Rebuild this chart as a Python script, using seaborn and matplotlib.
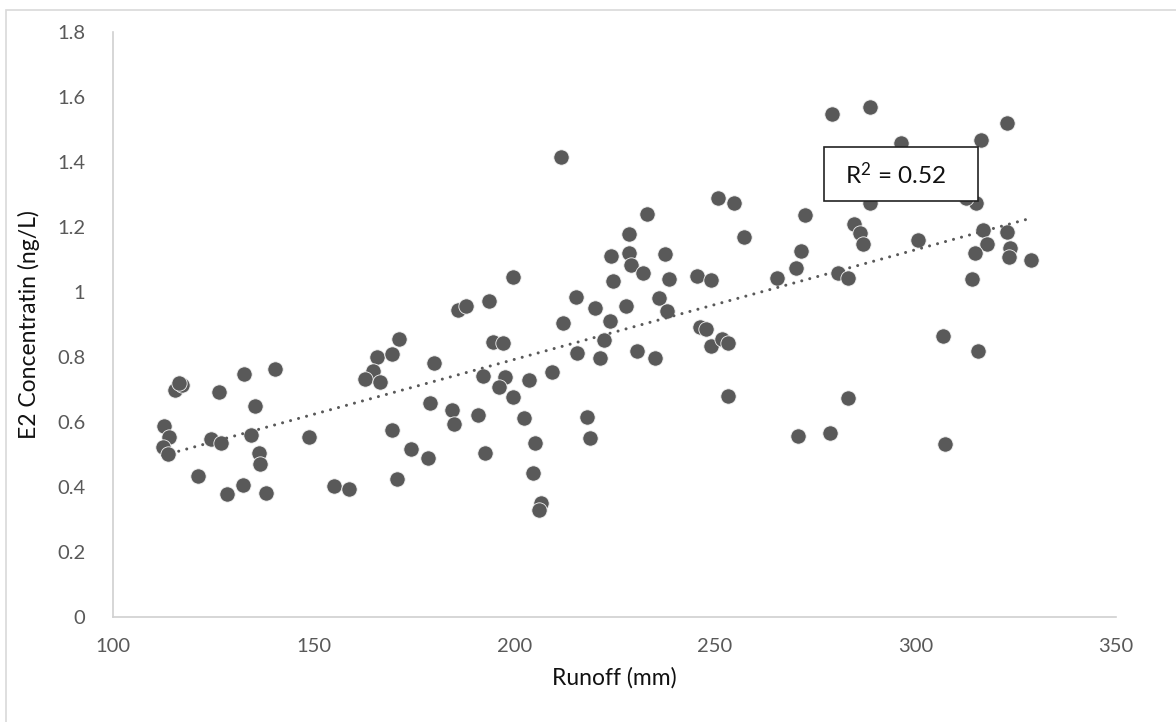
import numpy as np
import pandas as pd
import matplotlib
matplotlib.use("Agg")
import matplotlib.pyplot as plt
from matplotlib.patches import Rectangle
from matplotlib.ticker import FuncFormatter
import seaborn as sns

# Runoff (mm) and E2 concentration (ng/L) observations
runoff = [
    115.5, 117.3, 116.5, 132.7, 140.5, 126.4, 135.5, 112.8, 114.0, 112.4,
    113.8, 124.4, 126.8, 134.5, 148.8, 136.3, 136.6, 121.3, 128.5, 132.4,
    138.1, 155.1, 158.8, 185.9, 188.1, 193.6, 199.8, 215.3, 220.1, 212.2,
    194.6, 197.1, 171.4, 165.8, 169.5, 164.8, 162.9, 166.6, 180.0, 215.6,
    221.4, 192.1, 197.6, 196.1, 203.7, 209.4, 199.8, 179.0, 184.5, 185.1,
    191.0, 202.5, 218.1, 218.8, 169.5, 174.4, 178.4, 192.8, 205.2, 204.8,
    206.6, 206.2, 170.8, 211.7, 233.2, 228.7, 224.2, 228.5, 229.0, 232.2,
    237.5, 238.6, 224.6, 227.9, 236.1, 238.1, 223.9, 222.3, 230.6, 235.2,
    245.6, 249.1, 250.7, 254.9, 257.4, 246.4, 247.9, 249.1, 251.7, 253.3,
    253.2, 272.5, 271.4, 270.2, 265.4, 280.6, 270.7, 278.8, 279.3, 288.8,
    296.3, 316.3, 322.8, 288.6, 315.1, 312.7, 284.7, 286.3, 287.0, 300.7,
    316.8, 322.8, 317.9, 314.8, 323.5, 323.3, 328.9, 283.3, 314.0, 306.8,
    315.7, 307.5, 283.3,
]
e2_conc = [
    0.700, 0.714, 0.719, 0.748, 0.762, 0.691, 0.649, 0.588, 0.553, 0.522,
    0.501, 0.548, 0.534, 0.560, 0.555, 0.504, 0.470, 0.435, 0.378, 0.407,
    0.383, 0.403, 0.393, 0.945, 0.957, 0.971, 1.046, 0.986, 0.950, 0.906,
    0.845, 0.844, 0.854, 0.801, 0.809, 0.758, 0.733, 0.723, 0.783, 0.812,
    0.796, 0.742, 0.738, 0.709, 0.728, 0.753, 0.677, 0.659, 0.637, 0.594,
    0.621, 0.612, 0.616, 0.551, 0.574, 0.517, 0.488, 0.505, 0.535, 0.444,
    0.350, 0.329, 0.424, 1.414, 1.240, 1.179, 1.112, 1.119, 1.083, 1.060,
    1.116, 1.041, 1.035, 0.958, 0.982, 0.942, 0.911, 0.851, 0.818, 0.798,
    1.050, 1.037, 1.288, 1.275, 1.170, 0.893, 0.885, 0.835, 0.855, 0.843,
    0.681, 1.238, 1.127, 1.074, 1.044, 1.057, 0.558, 0.565, 1.548, 1.570,
    1.457, 1.468, 1.519, 1.273, 1.273, 1.289, 1.208, 1.182, 1.147, 1.160,
    1.191, 1.185, 1.147, 1.119, 1.134, 1.107, 1.098, 1.044, 1.041, 0.865,
    0.818, 0.532, 0.674,
]
x_ticks = [100, 150, 200, 250, 300, 350]
y_ticks = [0, 0.2, 0.4, 0.6, 0.8, 1.0, 1.2, 1.4, 1.6, 1.8]
r2_label = r"R$^{2}$ = 0.52"

df = pd.DataFrame({"Runoff (mm)": runoff, "E2 Concentratin (ng/L)": e2_conc})

sns.set_theme(style="white")
plt.rcParams["font.family"] = ["Lato", "DejaVu Sans"]
plt.rcParams["mathtext.fontset"] = "custom"
plt.rcParams["mathtext.rm"] = "Lato"
plt.rcParams["mathtext.it"] = "Lato"
plt.rcParams["mathtext.default"] = "regular"

W, H = 1176, 722
fig = plt.figure(figsize=(W / 100, H / 100), dpi=100)
ax = fig.add_axes([113 / W, (H - 617) / H, (1116 - 113) / W, (617 - 32) / H])

mark = "#595959"
sns.scatterplot(data=df, x="Runoff (mm)", y="E2 Concentratin (ng/L)", ax=ax,
                color=mark, s=122, edgecolor="#f2f2f2", linewidth=0.6,
                zorder=3, legend=False)
sns.regplot(data=df, x="Runoff (mm)", y="E2 Concentratin (ng/L)", ax=ax,
            scatter=False, ci=None, truncate=True,
            line_kws=dict(color=mark, lw=2.2, linestyle=(0, (0.01, 2.7)),
                          dash_capstyle="round", zorder=4))

ax.set_xlim(100, 350)
ax.set_ylim(0, 1.8)
ax.set_xticks(x_ticks)
ax.set_yticks(y_ticks)
ax.yaxis.set_major_formatter(FuncFormatter(lambda v, p: f"{v:g}"))
ax.tick_params(axis="both", length=0, labelsize=14.5, labelcolor=mark)
ax.tick_params(axis="x", pad=15)
ax.tick_params(axis="y", pad=20)
ax.set_xlabel("Runoff (mm)", fontsize=16.5, color="#111111", labelpad=9)
ax.set_ylabel("E2 Concentratin (ng/L)", fontsize=16.5, color="#111111", labelpad=12)

for side in ("top", "right"):
    ax.spines[side].set_visible(False)
for side in ("left", "bottom"):
    ax.spines[side].set_color("#d0d0d0")
    ax.spines[side].set_linewidth(1.2)
ax.grid(False)

# chart frame
fig.patches.append(Rectangle((6 / W, -0.1), 2.0, 1 - 10 / H + 0.1,
                             transform=fig.transFigure, fill=False,
                             edgecolor="#d9d9d9", lw=1.2))

# R² annotation box
fig.patches.append(Rectangle((824 / W, 1 - 201 / H), 154 / W, 54 / H,
                             transform=fig.transFigure, facecolor="white",
                             edgecolor="#222222", lw=1.2, zorder=10))
fig.text(845 / W, 1 - 175 / H, r2_label, fontsize=17.5, color="#111111",
         ha="left", va="center", zorder=11)

fig.savefig("out.png", dpi=100)
